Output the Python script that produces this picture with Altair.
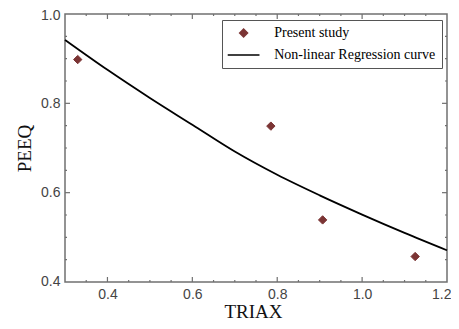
import altair as alt
import pandas as pd

# ---- data ----
triax_pts = [0.33, 0.785, 0.907, 1.125]
peeq_pts = [0.898, 0.749, 0.539, 0.457]

curve_triax = [0.3, 0.4, 0.5, 0.6, 0.7, 0.8, 0.9, 1.0, 1.1, 1.2]
curve_peeq = [0.942, 0.875, 0.812, 0.752, 0.692, 0.640, 0.594, 0.551, 0.510, 0.471]

series_names = ["Present study", "Non-linear Regression curve"]

x_labels = [0.4, 0.6, 0.8, 1.0, 1.2]
y_labels = [0.4, 0.6, 0.8, 1.0]
x_major_ticks = [0.4, 0.6, 0.8, 1.0]
x_minor_ticks = [0.35, 0.45, 0.5, 0.55, 0.65, 0.7, 0.75, 0.85, 0.9, 0.95, 1.05, 1.1, 1.15]
y_major_ticks = [0.6, 0.8]
y_minor_ticks = [0.45, 0.5, 0.55, 0.65, 0.7, 0.75, 0.85, 0.9, 0.95]

W, H = 382, 268
MARKER = "#7b3434"
FRAME = "#707070"

pts_df = pd.DataFrame({"TRIAX": triax_pts, "PEEQ": peeq_pts, "series": series_names[0]})
curve_df = pd.DataFrame({"TRIAX": curve_triax, "PEEQ": curve_peeq})

xscale = alt.Scale(domain=[0.3, 1.2], nice=False, zero=False)
yscale = alt.Scale(domain=[0.4, 1.0], nice=False, zero=False)

x_axis = alt.Axis(
    values=x_labels, format=".1f", title="TRIAX", domain=False, ticks=False, grid=False,
    labelFont="Liberation Sans", labelFontSize=14, labelColor="#444", labelPadding=5,
    labelFlush=1, labelFlushOffset=4,
    titleFont="Liberation Serif", titleFontSize=19, titleFontWeight="normal", titleColor="#111",
    titleBaseline="alphabetic", titleX=188, titleY=35, titleAlign="center",
)
y_axis = alt.Axis(
    values=y_labels, format=".1f", title="PEEQ", domain=False, ticks=False, grid=False,
    labelFont="Liberation Sans", labelFontSize=14, labelColor="#444", labelPadding=5,
    labelFlush=1, labelFlushOffset=6,
    titleFont="Liberation Serif", titleFontSize=19, titleFontWeight="normal", titleColor="#111",
    titleAngle=270, titleBaseline="alphabetic", titleAlign="center", titleX=-35, titleY=134,
)

curve = alt.Chart(curve_df).mark_line(color="black", strokeWidth=1.8, interpolate="monotone").encode(
    x=alt.X("TRIAX:Q", scale=xscale, axis=x_axis),
    y=alt.Y("PEEQ:Q", scale=yscale, axis=y_axis),
)

legend_def = alt.Legend(
    title=None, orient="none", legendX=157, legendY=6, direction="vertical",
    fillColor="white", strokeColor="#555", padding=6, cornerRadius=0,
    labelFont="Liberation Serif", labelFontSize=14, labelColor="black", labelLimit=400,
    symbolSize=60, symbolOffset=8.6, labelOffset=23.6, rowPadding=7,
    symbolStrokeWidth=1.6,
)

points = alt.Chart(pts_df).mark_point(filled=True, size=70, opacity=1, strokeWidth=1).encode(
    x=alt.X("TRIAX:Q", scale=xscale, axis=x_axis),
    y=alt.Y("PEEQ:Q", scale=yscale, axis=y_axis),
    shape=alt.Shape("series:N", scale=alt.Scale(domain=series_names, range=["diamond", "M-4.1,0H4.1"]),
                    legend=legend_def),
    color=alt.Color("series:N", scale=alt.Scale(domain=series_names, range=[MARKER, "#000000"]),
                    legend=legend_def),
    stroke=alt.Stroke("series:N", scale=alt.Scale(domain=series_names, range=[MARKER, "#000000"]),
                      legend=legend_def),
)


def xticks(vals, size, top):
    df = pd.DataFrame({"TRIAX": vals})
    y0 = 0 if top else H
    y1 = size if top else H - size
    return alt.Chart(df).mark_rule(color=FRAME, strokeWidth=1.2).encode(
        x=alt.X("TRIAX:Q", scale=xscale, axis=x_axis), y=alt.value(y0), y2=alt.value(y1))


def yticks(vals, size, right):
    df = pd.DataFrame({"PEEQ": vals})
    x0 = W if right else 0
    x1 = W - size if right else size
    return alt.Chart(df).mark_rule(color=FRAME, strokeWidth=1.2).encode(
        y=alt.Y("PEEQ:Q", scale=yscale, axis=y_axis), x=alt.value(x0), x2=alt.value(x1))


tick_layers = [
    xticks(x_major_ticks, 5, False), xticks(x_major_ticks, 5, True),
    xticks(x_minor_ticks, 2, False), xticks(x_minor_ticks, 2, True),
    yticks(y_major_ticks, 5, False), yticks(y_major_ticks, 5, True),
    yticks(y_minor_ticks, 2, False), yticks(y_minor_ticks, 2, True),
]

chart = alt.layer(curve, points, *tick_layers).properties(
    width=W, height=H,
    padding={"left": 57, "top": 6, "right": 4, "bottom": 39},
    autosize=alt.AutoSizeParams(type="none"),
    background="white",
).configure_view(stroke=FRAME, strokeWidth=1.5)

chart.save("out.html", embed_options={"renderer": "svg", "actions": False})
